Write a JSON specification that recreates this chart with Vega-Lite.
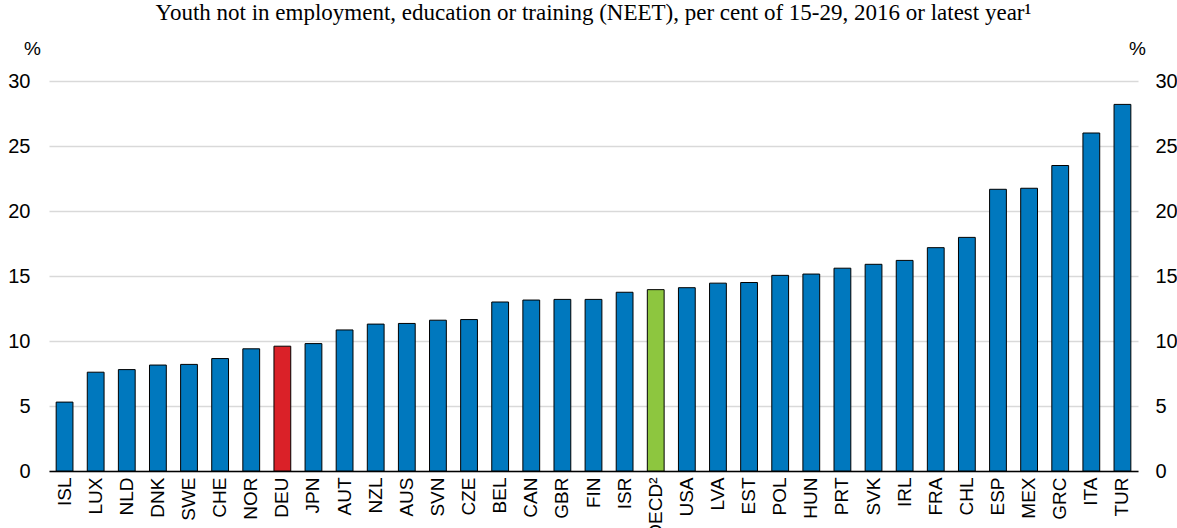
{
  "$schema": "https://vega.github.io/schema/vega-lite/v6.json",
  "autosize": "none",
  "width": 1089,
  "height": 390,
  "padding": {"left": 49, "top": 81, "right": 39, "bottom": 57},
  "background": "white",
  "title": {
    "text": "Youth not in employment, education or training (NEET), per cent of 15-29, 2016 or latest year¹",
    "font": "Liberation Serif",
    "fontSize": 23,
    "fontWeight": "normal",
    "color": "black",
    "anchor": "middle",
    "frame": "group",
    "offset": 14
  },
  "config": {
    "view": {"stroke": null},
    "axis": {"labelFont": "Liberation Sans Narrow, Liberation Sans", "titleFont": "Liberation Sans Narrow, Liberation Sans", "labelColor": "black", "titleColor": "black"}
  },
  "data": {
    "values": [
      {"country": "ISL", "value": 5.3, "group": "country"},
      {"country": "LUX", "value": 7.6, "group": "country"},
      {"country": "NLD", "value": 7.8, "group": "country"},
      {"country": "DNK", "value": 8.15, "group": "country"},
      {"country": "SWE", "value": 8.2, "group": "country"},
      {"country": "CHE", "value": 8.65, "group": "country"},
      {"country": "NOR", "value": 9.4, "group": "country"},
      {"country": "DEU", "value": 9.6, "group": "DEU"},
      {"country": "JPN", "value": 9.8, "group": "country"},
      {"country": "AUT", "value": 10.85, "group": "country"},
      {"country": "NZL", "value": 11.3, "group": "country"},
      {"country": "AUS", "value": 11.35, "group": "country"},
      {"country": "SVN", "value": 11.6, "group": "country"},
      {"country": "CZE", "value": 11.65, "group": "country"},
      {"country": "BEL", "value": 13.0, "group": "country"},
      {"country": "CAN", "value": 13.15, "group": "country"},
      {"country": "GBR", "value": 13.2, "group": "country"},
      {"country": "FIN", "value": 13.2, "group": "country"},
      {"country": "ISR", "value": 13.75, "group": "country"},
      {"country": "OECD²", "value": 13.95, "group": "OECD"},
      {"country": "USA", "value": 14.1, "group": "country"},
      {"country": "LVA", "value": 14.45, "group": "country"},
      {"country": "EST", "value": 14.5, "group": "country"},
      {"country": "POL", "value": 15.05, "group": "country"},
      {"country": "HUN", "value": 15.15, "group": "country"},
      {"country": "PRT", "value": 15.6, "group": "country"},
      {"country": "SVK", "value": 15.9, "group": "country"},
      {"country": "IRL", "value": 16.2, "group": "country"},
      {"country": "FRA", "value": 17.18, "group": "country"},
      {"country": "CHL", "value": 17.97, "group": "country"},
      {"country": "ESP", "value": 21.67, "group": "country"},
      {"country": "MEX", "value": 21.75, "group": "country"},
      {"country": "GRC", "value": 23.5, "group": "country"},
      {"country": "ITA", "value": 26.0, "group": "country"},
      {"country": "TUR", "value": 28.2, "group": "country"}
    ]
  },
  "encoding": {
    "x": {
      "field": "country",
      "type": "nominal",
      "sort": null,
      "scale": {"paddingInner": 0.46, "paddingOuter": 0.23},
      "axis": {
        "title": null,
        "labelAngle": -90,
        "labelFontSize": 19,
        "labelPadding": 6,
        "ticks": false,
        "domainColor": "black",
        "domainWidth": 1.5,
        "labelAlign": "right",
        "labelBaseline": "middle"
      }
    }
  },
  "layer": [
    {
      "mark": {"type": "bar", "stroke": "black", "strokeWidth": 1},
      "encoding": {
        "y": {
          "field": "value",
          "type": "quantitative",
          "scale": {"domain": [0, 30], "nice": false},
          "axis": {
            "orient": "left",
            "values": [0, 5, 10, 15, 20, 25, 30],
            "title": "%",
            "titleAngle": 0,
            "titleFontSize": 19,
            "titleFontWeight": "normal",
            "titleX": -17,
            "titleY": -33,
            "titleAlign": "center",
            "titleBaseline": "middle",
            "labelFontSize": 20,
            "labelPadding": 19,
            "ticks": false,
            "domain": false,
            "grid": true,
            "gridColor": "#D9D9D9",
            "gridWidth": 1.5
          }
        },
        "color": {
          "field": "group",
          "type": "nominal",
          "scale": {"domain": ["country", "DEU", "OECD"], "range": ["#0078BE", "#DA2128", "#8DC63F"]},
          "legend": null
        }
      }
    },
    {
      "mark": {"type": "bar", "opacity": 0},
      "encoding": {
        "y": {
          "field": "value",
          "type": "quantitative",
          "scale": {"domain": [0, 30], "nice": false},
          "axis": {
            "orient": "right",
            "values": [0, 5, 10, 15, 20, 25, 30],
            "title": "%",
            "titleAngle": 0,
            "titleFontSize": 19,
            "titleFontWeight": "normal",
            "titleX": -1,
            "titleY": -33,
            "titleAlign": "center",
            "titleBaseline": "middle",
            "labelFontSize": 20,
            "labelPadding": 17,
            "ticks": false,
            "domain": false,
            "grid": false
          }
        }
      }
    }
  ],
  "resolve": {"scale": {"y": "independent"}}
}
